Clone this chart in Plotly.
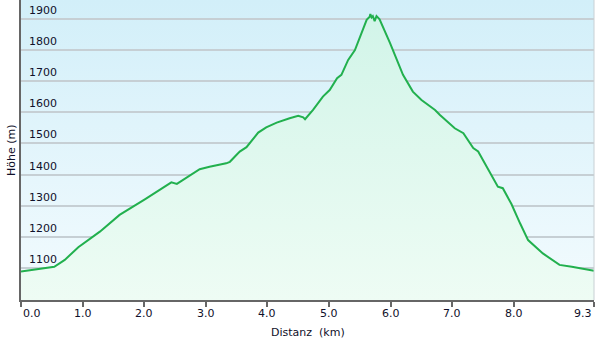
import base64
import plotly.graph_objects as go

# Elevation profile (distance km, elevation m)
distanz_km = [0.00, 0.30, 0.54, 0.71, 0.93, 1.28, 1.60, 2.01, 2.44, 2.53, 2.63, 2.90,
              3.06, 3.33, 3.39, 3.55, 3.66, 3.85, 3.98, 4.15, 4.36, 4.50, 4.58, 4.61,
              4.74, 4.90, 5.01, 5.13, 5.20, 5.31, 5.42, 5.61, 5.66, 5.67, 5.69, 5.71,
              5.74, 5.77, 5.82, 5.99, 6.20, 6.36, 6.50, 6.72, 6.80, 7.04, 7.18, 7.34,
              7.42, 7.64, 7.74, 7.82, 7.96, 8.10, 8.23, 8.47, 8.74, 8.94, 9.29, 9.30]
hoehe_m = [1088, 1097, 1103, 1125, 1166, 1216, 1270, 1320, 1375, 1370, 1382, 1417,
           1425, 1436, 1441, 1474, 1488, 1535, 1552, 1567, 1581, 1589, 1584, 1578,
           1608, 1651, 1672, 1710, 1721, 1769, 1801, 1898, 1908, 1917, 1906, 1910,
           1894, 1910, 1900, 1823, 1721, 1667, 1640, 1608, 1592, 1549, 1533, 1485,
           1474, 1399, 1361, 1356, 1305, 1243, 1189, 1146, 1109, 1103, 1090, 1090]

x_ticks = [0, 1, 2, 3, 4, 5, 6, 7, 8, 9.3]
x_tick_labels = ["0.0", "1.0", "2.0", "3.0", "4.0", "5.0", "6.0", "7.0", "8.0", "9.3"]
y_ticks = [1100, 1200, 1300, 1400, 1500, 1600, 1700, 1800, 1900]
y_tick_labels = ["1100", "1200", "1300", "1400", "1500", "1600", "1700", "1800", "1900"]

X_RANGE = [0, 9.3]
Y_RANGE = [996, 1962]
FONT = "DejaVu Sans"
TEXT_COLOR = "#10102a"

svg = ("<svg xmlns='http://www.w3.org/2000/svg' width='10' height='100' preserveAspectRatio='none'>"
       "<defs><linearGradient id='g' x1='0' y1='0' x2='0' y2='1'>"
       "<stop offset='0' stop-color='#d2eff9'/><stop offset='1' stop-color='#f3fbfe'/>"
       "</linearGradient></defs><rect width='10' height='100' fill='url(#g)'/></svg>")
bg_src = "data:image/svg+xml;base64," + base64.b64encode(svg.encode()).decode()

fig = go.Figure()
fig.add_trace(go.Scatter(
    x=distanz_km, y=hoehe_m, mode="lines",
    line=dict(color="#22b04e", width=2),
    fill="tozeroy",
    fillgradient=dict(type="vertical", start=Y_RANGE[0], stop=Y_RANGE[1],
                      colorscale=[[0, "#eefcf4"], [1, "#d0f4e8"]]),
    hoverinfo="skip",
))

annotations = []
for v, t in zip(x_ticks, x_tick_labels):
    if v == x_ticks[0]:
        xa = "left"
    elif v == x_ticks[-1]:
        xa = "right"
    else:
        xa = "center"
    annotations.append(dict(x=v, y=0, xref="x", yref="paper", yanchor="top", xanchor=xa,
                            yshift=-5, text=t, showarrow=False,
                            font=dict(family=FONT, size=11, color=TEXT_COLOR)))
for v, t in zip(y_ticks, y_tick_labels):
    annotations.append(dict(x=0, y=v, xref="paper", yref="y", xanchor="left", yanchor="bottom",
                            xshift=6, yshift=0, text=t, showarrow=False,
                            font=dict(family=FONT, size=11, color=TEXT_COLOR)))
annotations.append(dict(x=0.5, y=0, xref="paper", yref="paper", yanchor="top", xanchor="center",
                        yshift=-24, text="Distanz  (km)", showarrow=False,
                        font=dict(family=FONT, size=11, color=TEXT_COLOR)))
annotations.append(dict(x=0, y=0.5, xref="paper", yref="paper", xanchor="center", yanchor="middle",
                        xshift=-10, text="Höhe (m)", textangle=-90, showarrow=False,
                        font=dict(family=FONT, size=11, color=TEXT_COLOR)))

fig.update_layout(
    width=600, height=340,
    margin=dict(l=21, r=6, t=0, b=40),
    paper_bgcolor="white",
    plot_bgcolor="rgba(0,0,0,0)",
    showlegend=False,
    images=[dict(source=bg_src, xref="paper", yref="paper", x=0, y=1, sizex=1, sizey=1,
                 xanchor="left", yanchor="top", sizing="stretch", layer="below")],
    annotations=annotations,
    xaxis=dict(range=X_RANGE, tickvals=x_ticks, showticklabels=False, ticks="outside",
               ticklen=5, tickwidth=2, tickcolor="#666", showgrid=False, zeroline=False,
               showline=True, linecolor="#666", linewidth=2, mirror=False, fixedrange=True),
    yaxis=dict(range=Y_RANGE, tickvals=y_ticks, showticklabels=False, ticks="",
               showgrid=True, gridcolor="#c6cfd4", gridwidth=2, zeroline=False,
               showline=True, linecolor="#666", linewidth=2, fixedrange=True),
    shapes=[dict(type="line", xref="paper", yref="paper", x0=1, x1=1, y0=0, y1=1,
                 line=dict(color="#c8d0d4", width=1))],
)

fig.write_html("out.html", config={"displayModeBar": False},
               post_script="document.body.style.margin='0';document.body.style.overflow='hidden';")
